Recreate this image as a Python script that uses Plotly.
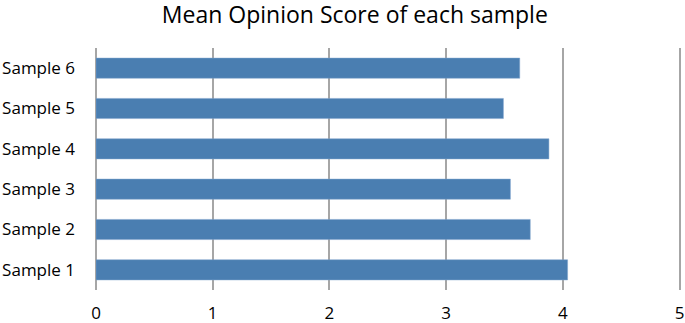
import plotly.graph_objects as go

categories = ["Sample 1", "Sample 2", "Sample 3", "Sample 4", "Sample 5", "Sample 6"]
scores = [4.04, 3.72, 3.55, 3.88, 3.49, 3.63]
x_ticks = [0, 1, 2, 3, 4, 5]

FONT = "Open Sans"
GRID = "#a6a6a6"

fig = go.Figure(
    go.Bar(
        x=scores,
        y=categories,
        orientation="h",
        width=0.5,
        marker=dict(color="#4a7eb1", line=dict(color="#7fa3cc", width=0.5)),
    )
)

fig.update_layout(
    width=685,
    height=323,
    margin=dict(l=96, r=3, t=48, b=33, autoexpand=False),
    paper_bgcolor="white",
    plot_bgcolor="white",
    showlegend=False,
    title=dict(
        text="Mean Opinion Score of each sample",
        x=0.518,
        xanchor="center",
        y=0.953,
        yanchor="middle",
        font=dict(family=FONT, size=23, color="black"),
    ),
    bargap=0.5,
)

fig.update_xaxes(
    range=[0, 5.02],
    tickvals=x_ticks,
    ticktext=[str(v) for v in x_ticks],
    automargin=False,
    showgrid=True,
    gridcolor=GRID,
    gridwidth=2,
    zeroline=True,
    zerolinecolor=GRID,
    zerolinewidth=2,
    showline=False,
    ticks="",
    ticklabelstandoff=11,
    tickfont=dict(family=FONT, size=17, color="black"),
)

fig.update_yaxes(
    automargin=False,
    showgrid=False,
    ticks="",
    ticklabelstandoff=20,
    tickfont=dict(family=FONT, size=17, color="black"),
)

# remove the default page margin so the figure sits at the window's corner
fig.write_html(
    "out.html",
    config={"displayModeBar": False, "staticPlot": True},
    post_script="document.body.style.margin='0';",
)
